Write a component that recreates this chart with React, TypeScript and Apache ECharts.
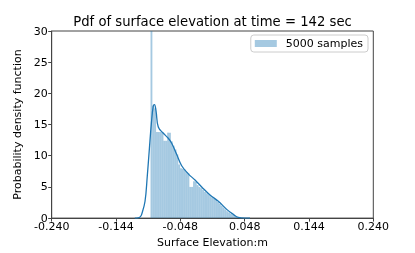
import React, { useEffect, useRef } from "react";
import * as echarts from "echarts";

const titleText = "Pdf of surface elevation at time = 142 sec";
const xAxisLabel = "Surface Elevation:m";
const yAxisLabel = "Probability density function";
const legendLabel = "5000 samples";

const xMin = -0.24;
const xMax = 0.24;
const xStep = 0.096;
const yMin = 0;
const yMax = 30;
const yStep = 5;

// Histogram (density) bins
const binStart = -0.0925;
const binWidth = 0.00276;
const binHeights = [
  38, 18.0, 17.6, 13.8, 13.8, 13.8, 13.8, 12.4, 12.4, 13.7,
  13.7, 12.3, 11.6, 11.0, 10.2, 8.6, 8.0, 7.9, 7.8, 7.4,
  7.2, 5.0, 5.0, 5.9, 5.8, 5.3, 5.0, 4.8, 4.5, 4.2,
  4.0, 3.8, 3.5, 3.3, 3.1, 2.9, 2.6, 2.3, 2.0, 1.7,
  1.4, 1.1, 0.9, 0.7, 0.5, 0.35, 0.2, 0.1, 0.05, 0.03,
];

// KDE curve
const kdeX = [
  -0.116, -0.111, -0.108, -0.1057, -0.1007, -0.0973, -0.0943, -0.0913, -0.0884,
  -0.0866, -0.0843, -0.0809, -0.0734, -0.066, -0.0609, -0.0534, -0.046, -0.0361,
  -0.0261, -0.0161, -0.0037, 0.0087, 0.0212, 0.031, 0.0385, 0.0485, 0.056,
];
const kdeY = [
  0, 0.05, 0.2, 0.6, 2.7, 6.8, 11.0, 15.1, 18.0,
  18.2, 17.2, 14.6, 13.6, 12.8, 12.0, 10.2, 8.4, 7.1,
  6.1, 5.0, 3.7, 2.7, 1.4, 0.6, 0.1, 0.0, 0,
];

const FONT = "DejaVu Sans";
const BAR_COLOR = "rgba(31,119,180,0.4)";
const LINE_COLOR = "#1f77b4";
const AXIS_COLOR = "#444";

export default function App() {
  const ref = useRef<HTMLDivElement>(null);
  useEffect(() => {
    if (!ref.current) return;
    const chart = echarts.init(ref.current, undefined, { renderer: "svg" });
    const histData = binHeights.map((h, i) => [
      binStart + i * binWidth,
      binStart + (i + 1) * binWidth,
      h,
    ]);
    const kdeData = kdeX.map((x, i) => [x, kdeY[i]]);
    chart.setOption({
      animation: false,
      title: {
        text: titleText,
        left: 212.5,
        textAlign: "center",
        top: 15.4,
        padding: 0,
        textStyle: { fontFamily: FONT, fontSize: 13.2, fontWeight: "normal", color: "#000" },
      },
      legend: {
        data: [{ name: legendLabel, icon: "rect", itemStyle: { color: BAR_COLOR } }],
        right: 47,
        top: 35,
        itemWidth: 22,
        itemHeight: 7,
        padding: [3, 5, 3, 4],
        borderColor: "#cccccc",
        borderWidth: 1,
        borderRadius: 3,
        backgroundColor: "rgba(255,255,255,0.8)",
        textStyle: { fontFamily: FONT, fontSize: 11, color: "#000", padding: [0, 0, 0, 4] },
      },
      grid: {
        left: 51.7,
        right: 41.7,
        top: 31,
        bottom: 29,
        show: true,
        borderColor: AXIS_COLOR,
        borderWidth: 1,
        backgroundColor: "transparent",
      },
      xAxis: {
        type: "value",
        min: xMin,
        max: xMax,
        interval: xStep,
        name: xAxisLabel,
        nameLocation: "middle",
        nameGap: 14,
        nameTextStyle: { fontFamily: FONT, fontSize: 11, color: "#000" },
        axisLine: { show: true, onZero: false, lineStyle: { color: AXIS_COLOR, width: 1 } },
        axisTick: { show: true, inside: false, length: 3.5, lineStyle: { color: AXIS_COLOR } },
        axisLabel: {
          fontFamily: FONT,
          fontSize: 11,
          color: "#000",
          margin: 3,
          showMinLabel: true,
          showMaxLabel: true,
          formatter: (v: number) => v.toFixed(3),
        },
        splitLine: { show: false },
      },
      yAxis: {
        type: "value",
        min: yMin,
        max: yMax,
        interval: yStep,
        name: yAxisLabel,
        nameLocation: "middle",
        nameGap: 19,
        nameTextStyle: { fontFamily: FONT, fontSize: 11, color: "#000" },
        axisLine: { show: true, onZero: false, lineStyle: { color: AXIS_COLOR, width: 1 } },
        axisTick: { show: true, inside: false, length: 3.5, lineStyle: { color: AXIS_COLOR } },
        axisLabel: { fontFamily: FONT, fontSize: 11, color: "#000", margin: 4 },
        splitLine: { show: false },
      },
      series: [
        {
          name: legendLabel,
          type: "custom",
          itemStyle: { color: BAR_COLOR },
          encode: { x: [0, 1], y: 2 },
          data: histData,
          renderItem: (params: any, api: any) => {
            const p0 = api.coord([api.value(0), api.value(2)]);
            const p1 = api.coord([api.value(1), 0]);
            const cs = params.coordSys;
            const rect = echarts.graphic.clipRectByRect(
              { x: p0[0], y: p0[1], width: p1[0] - p0[0], height: p1[1] - p0[1] },
              { x: cs.x, y: cs.y, width: cs.width, height: cs.height }
            );
            if (!rect) return null;
            return {
              type: "rect",
              shape: rect,
              style: { fill: BAR_COLOR },
            };
          },
        },
        {
          name: "kde",
          type: "line",
          data: kdeData,
          smooth: 0.4,
          showSymbol: false,
          symbol: "none",
          lineStyle: { color: LINE_COLOR, width: 1.3 },
          z: 5,
        },
      ],
    });
    return () => chart.dispose();
  }, []);
  return (
    <div
      ref={ref}
      style={{ position: "fixed", left: 0, top: 0, width: 415, height: 253 }}
    />
  );
}
